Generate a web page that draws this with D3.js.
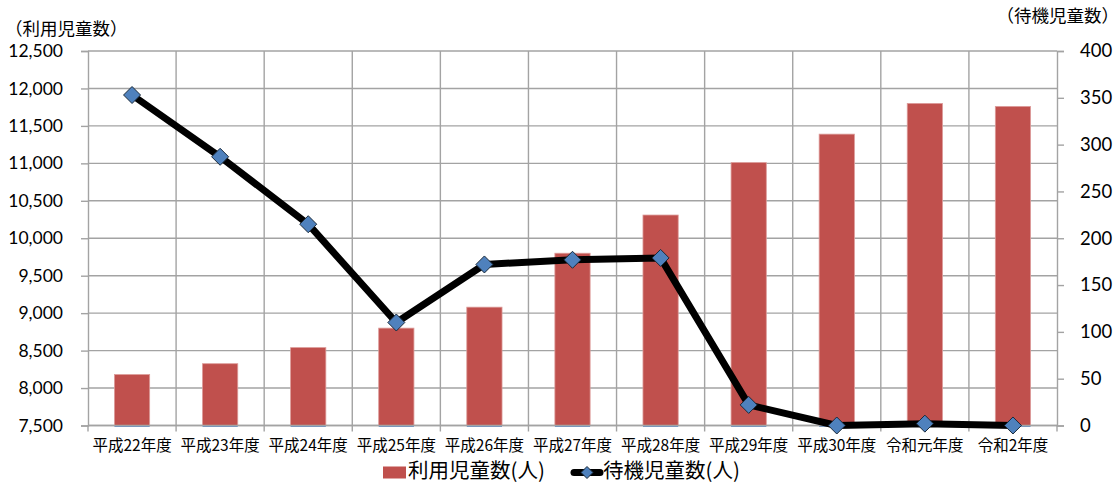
<!DOCTYPE html>
<html>
<head>
<meta charset="utf-8">
<script src="https://cdn.jsdelivr.net/npm/d3@7/dist/d3.min.js"></script>
<style>
  html, body { margin: 0; padding: 0; background: #fff; }
  svg { display: block; }
</style>
</head>
<body>
<svg id="chart" width="1119" height="485"></svg>
<script>
// ---- data ----
const categories = ["平成22年度","平成23年度","平成24年度","平成25年度","平成26年度","平成27年度","平成28年度","平成29年度","平成30年度","令和元年度","令和2年度"];
const usersValues = [8180, 8325, 8540, 8800, 9080, 9800, 10310, 11010, 11390, 11800, 11760];
const waitingValues = [353, 287, 215, 110, 172, 177, 179, 22, 0, 2, 0];
const leftTicks = [7500, 8000, 8500, 9000, 9500, 10000, 10500, 11000, 11500, 12000, 12500];
const rightTicks = [0, 50, 100, 150, 200, 250, 300, 350, 400];
const leftTitle = "（利用児童数）";
const rightTitle = "（待機児童数）";
const legendBar = "利用児童数(人)";
const legendLine = "待機児童数(人)";

// ---- layout ----
const svg = d3.select("#chart");
const L = 88, R = 1057, T = 51, B = 425.5;
const cjk = "'Noto Sans CJK JP', 'Noto Sans', sans-serif";
const num = "Lato, 'Noto Sans', sans-serif";

const x = d3.scaleBand().domain(categories).range([L, R]).paddingInner(0).paddingOuter(0);
const yL = d3.scaleLinear().domain([7500, 12500]).range([B, T]);
const yR = d3.scaleLinear().domain([0, 400]).range([B, T]);

const gridColor = "#a3a3a3";

// horizontal gridlines
svg.append("g").selectAll("line").data(leftTicks).join("line")
  .attr("x1", L).attr("x2", R)
  .attr("y1", d => yL(d)).attr("y2", d => yL(d))
  .attr("stroke", gridColor).attr("stroke-width", 1.4);

// vertical gridlines at category boundaries
const bounds = categories.map(c => x(c)).concat([R]);
svg.append("g").selectAll("line").data(bounds.slice(1, -1)).join("line")
  .attr("x1", d => d).attr("x2", d => d)
  .attr("y1", T).attr("y2", B)
  .attr("stroke", gridColor).attr("stroke-width", 1.4);

// bars
const bw = x.bandwidth() * 0.4;
svg.append("g").selectAll("rect").data(categories).join("rect")
  .attr("x", (c) => x(c) + x.bandwidth() / 2 - bw / 2)
  .attr("width", bw)
  .attr("y", (c, i) => yL(usersValues[i]))
  .attr("height", (c, i) => yL(7500) - yL(usersValues[i]))
  .attr("fill", "#C0504D")
  .attr("stroke", "#dc9b99").attr("stroke-width", 0.8);

// thin blue base under each bar
svg.append("g").selectAll("rect").data(categories).join("rect")
  .attr("x", (c) => x(c) + x.bandwidth() / 2 - bw / 2)
  .attr("width", bw)
  .attr("y", B - 0.5)
  .attr("height", 1.8)
  .attr("fill", "#4F81BD");

// left axis
const axL = d3.axisLeft(yL).tickValues(leftTicks).tickSize(7).tickPadding(18)
  .tickFormat(d3.format(","));
const gL = svg.append("g").attr("transform", `translate(${L},0)`).call(axL);
gL.select(".domain").attr("stroke", gridColor).attr("stroke-width", 1.4);
gL.selectAll(".tick line").attr("stroke", gridColor).attr("stroke-width", 1.4);
gL.selectAll(".tick text").attr("font-family", num).attr("font-size", 17.5).attr("fill", "#000");

// right axis
const axR = d3.axisRight(yR).tickValues(rightTicks).tickSize(7).tickPadding(16);
const gR = svg.append("g").attr("transform", `translate(${R},0)`).call(axR);
gR.select(".domain").attr("stroke", gridColor).attr("stroke-width", 1.4);
gR.selectAll(".tick line").attr("stroke", gridColor).attr("stroke-width", 1.4);
gR.selectAll(".tick text").attr("font-family", num).attr("font-size", 18.5).attr("fill", "#000");

// bottom axis
const gB = svg.append("g").attr("transform", `translate(0,${B})`);
gB.append("line").attr("x1", L).attr("x2", R).attr("y1", 0).attr("y2", 0)
  .attr("stroke", gridColor).attr("stroke-width", 1.4);
gB.selectAll("line.tk").data(bounds).join("line").attr("class", "tk")
  .attr("x1", d => d).attr("x2", d => d).attr("y1", 0).attr("y2", 6)
  .attr("stroke", gridColor).attr("stroke-width", 1.4);
gB.selectAll("text").data(categories).join("text")
  .attr("x", c => x(c) + x.bandwidth() / 2)
  .attr("y", 21)
  .attr("dominant-baseline", "middle")
  .attr("text-anchor", "middle")
  .attr("font-family", cjk).attr("font-size", 15.5).attr("fill", "#000")
  .text(c => c);

// line
const line = d3.line()
  .x((d, i) => x(categories[i]) + x.bandwidth() / 2)
  .y(d => yR(d));
svg.append("path").datum(waitingValues)
  .attr("d", line).attr("fill", "none")
  .attr("stroke", "#000").attr("stroke-width", 7).attr("stroke-linejoin", "round");

// markers
const dm = 8.5;
const diamond = `M0,${-dm}L${dm},0L0,${dm}L${-dm},0Z`;
svg.append("g").selectAll("path").data(waitingValues).join("path")
  .attr("transform", (d, i) => `translate(${x(categories[i]) + x.bandwidth() / 2},${yR(d)})`)
  .attr("d", diamond)
  .attr("fill", "#4F81BD").attr("stroke", "#1b2a3a").attr("stroke-width", 1);

// axis titles
svg.append("text").attr("x", 5).attr("y", 30).attr("dominant-baseline", "middle")
  .attr("font-family", cjk).attr("font-size", 17.5).attr("fill", "#000").text(leftTitle);
svg.append("text").attr("x", 1119).attr("y", 17).attr("dominant-baseline", "middle")
  .attr("text-anchor", "end")
  .attr("font-family", cjk).attr("font-size", 17.5).attr("fill", "#000").text(rightTitle);

// legend
const lg = svg.append("g");
const ly = 472.5;
lg.append("rect").attr("x", 383).attr("y", ly - 6).attr("width", 23).attr("height", 12).attr("fill", "#C0504D");
lg.append("text").attr("x", 408).attr("y", ly).attr("dominant-baseline", "middle")
  .attr("font-family", cjk).attr("font-size", 20.5).attr("fill", "#000").text(legendBar);
lg.append("line").attr("x1", 574).attr("x2", 600).attr("y1", ly).attr("y2", ly)
  .attr("stroke", "#000").attr("stroke-width", 7).attr("stroke-linecap", "round");
lg.append("path").attr("transform", `translate(587,${ly})`)
  .attr("d", `M0,-6L6,0L0,6L-6,0Z`).attr("fill", "#4F81BD").attr("stroke", "#1b2a3a").attr("stroke-width", 1);
lg.append("text").attr("x", 603).attr("y", ly).attr("dominant-baseline", "middle")
  .attr("font-family", cjk).attr("font-size", 20.5).attr("fill", "#000").text(legendLine);
</script>
</body>
</html>
